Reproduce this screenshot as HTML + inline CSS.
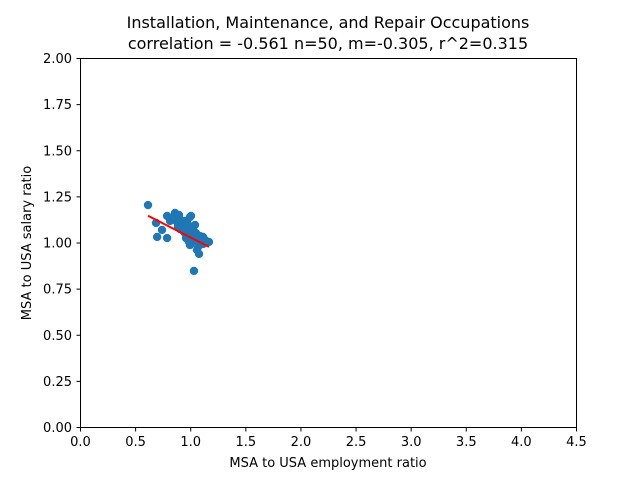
<!DOCTYPE html>
<html><head><meta charset="utf-8">
<style>
body{margin:0;background:#fff;}
svg{display:block;font-family:"DejaVu Sans","Liberation Sans",sans-serif;}
</style></head>
<body>
<svg id="chart" width="640" height="480">
<text x="328" y="28" text-anchor="middle" font-size="16">Installation, Maintenance, and Repair Occupations</text>
<text x="328" y="49" text-anchor="middle" font-size="16">correlation = -0.561 n=50, m=-0.305, r^2=0.315</text>
<text x="328" y="467" text-anchor="middle" font-size="13">MSA to USA employment ratio</text>
<text transform="translate(31,243) rotate(-90)" text-anchor="middle" font-size="13">MSA to USA salary ratio</text>
<g id="ticks"></g>
<g id="points"></g>
<g id="fit"></g>
<rect x="80.5" y="58.5" width="496" height="369" fill="none" stroke="#000" stroke-width="1"/>
</svg>
<script>
const xTicks=[0,0.5,1,1.5,2,2.5,3,3.5,4,4.5];
const yTicks=[0,0.25,0.5,0.75,1,1.25,1.5,1.75,2];
const xVals=[0.617,0.69,0.70,0.744,0.79,0.79,0.835,0.862,0.898,0.889,0.907,0.935,0.953,0.971,0.998,1.007,0.925,0.944,0.962,0.98,0.998,1.025,1.043,1.052,1.062,1.08,1.116,1.116,1.152,1.17,1.034,0.953,0.989,1.007,1.025,1.052,1.089,0.989,0.953,0.907,0.889,0.871,0.817,0.98,1.016,1.071,1.098,1.134,1.043,0.844];
const yVals=[1.203,1.106,1.03,1.068,1.144,1.024,1.122,1.16,1.149,1.1,1.073,1.089,1.117,1.111,1.138,1.144,1.073,1.057,1.024,1.014,0.986,1.057,1.035,1.008,0.959,0.938,0.992,1.03,1.003,1.003,0.846,1.079,1.089,1.062,1.079,1.051,1.035,1.003,1.051,1.122,1.084,1.127,1.117,1.057,1.024,0.976,1.008,1.014,1.095,1.138];
const slope=[-0.305];
const intercept=[1.333];
const X0=80,X1=576,Y0=427,Y1=58;
const sx=v=>X0+(v-0)/(4.5-0)*(X1-X0);
const sy=v=>Y0-(v-0)/(2-0)*(Y0-Y1);
const NS="http://www.w3.org/2000/svg";
const tg=document.getElementById('ticks');
xTicks.forEach(t=>{
  const x=sx(t)+0.5;
  const l=document.createElementNS(NS,'line');
  l.setAttribute('x1',x);l.setAttribute('x2',x);l.setAttribute('y1',427.5);l.setAttribute('y2',431.5);l.setAttribute('stroke','#000');
  
  
  tg.appendChild(l);
  const tx=document.createElementNS(NS,'text');
  tx.setAttribute('x',x);tx.setAttribute('y',446);tx.setAttribute('text-anchor','middle');tx.setAttribute('font-size','13');
  tx.textContent=t.toFixed(1);
  
  
  tg.appendChild(tx);
});
yTicks.forEach(t=>{
  const y=sy(t)+0.5;
  const l=document.createElementNS(NS,'line');
  l.setAttribute('x1',76.5);l.setAttribute('x2',80.5);l.setAttribute('y1',y);l.setAttribute('y2',y);l.setAttribute('stroke','#000');
  
  
  tg.appendChild(l);
  const tx=document.createElementNS(NS,'text');
  tx.setAttribute('x',72);tx.setAttribute('y',y+4.5);tx.setAttribute('text-anchor','end');tx.setAttribute('font-size','13');
  tx.textContent=t.toFixed(2);
  
  
  tg.appendChild(tx);
});
const pg=document.getElementById('points');
xVals.forEach((v,i)=>{
  const c=document.createElementNS(NS,'circle');
  c.setAttribute('cx',sx(v));c.setAttribute('cy',sy(yVals[i]));c.setAttribute('r',4.2);c.setAttribute('fill','#1f77b4');
  
  
  pg.appendChild(c);
});
const xmin=Math.min(...xVals),xmax=Math.max(...xVals);
const fl=document.createElementNS(NS,'line');
fl.setAttribute('x1',sx(xmin));fl.setAttribute('y1',sy(slope[0]*xmin+intercept[0]));
fl.setAttribute('x2',sx(xmax));fl.setAttribute('y2',sy(slope[0]*xmax+intercept[0]));
fl.setAttribute('stroke','red');fl.setAttribute('stroke-width','2');


document.getElementById('fit').appendChild(fl);
</script>
</body></html>
